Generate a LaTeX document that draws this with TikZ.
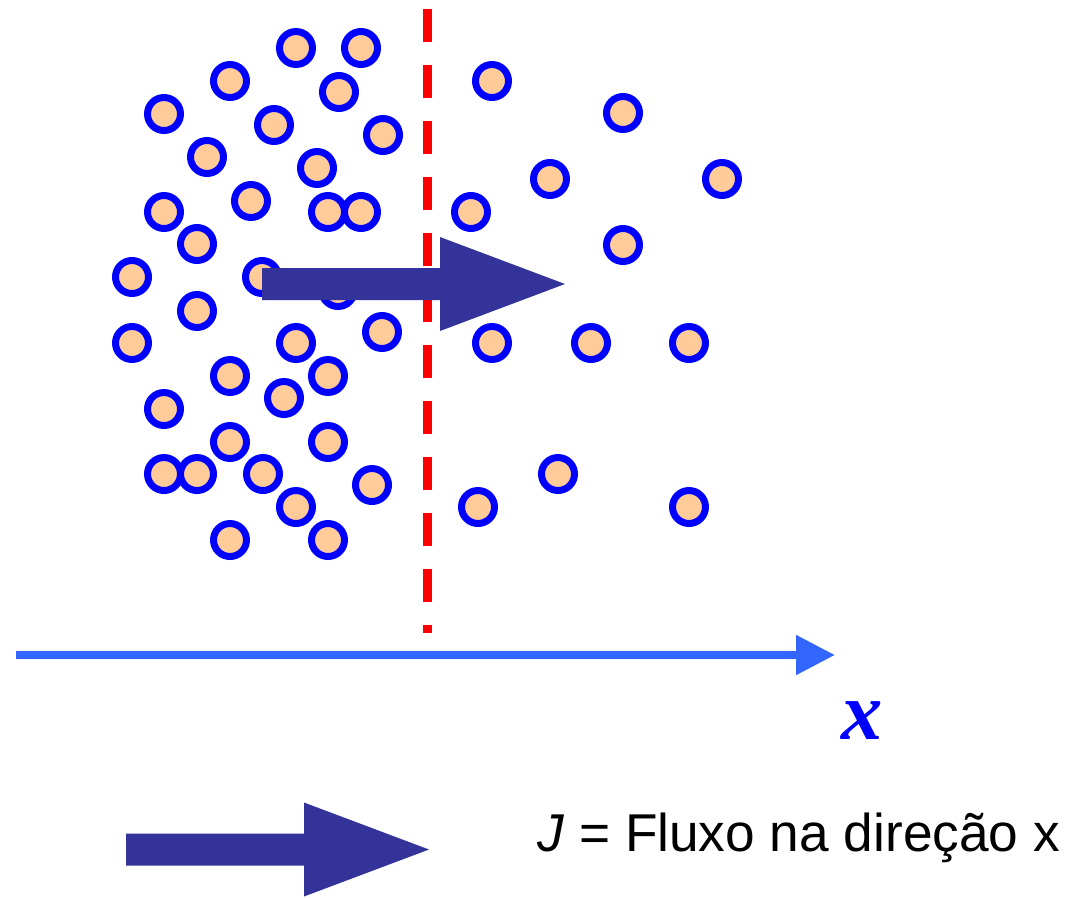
\documentclass[tikz,border=0pt]{standalone}
\usepackage{fontspec}
\setmainfont{Liberation Sans}
\newfontfamily\varfont{Liberation Serif}
\usetikzlibrary{arrows.meta}
\definecolor{particleblue}{RGB}{0,0,255}
\definecolor{particlefill}{RGB}{255,204,153}
\definecolor{fluxnavy}{RGB}{51,51,153}
\definecolor{axisblue}{RGB}{51,102,255}

\begin{document}
\begin{tikzpicture}[x=0.02cm,y=-0.02cm]
\tikzstyle{particle}=[circle, draw=particleblue, fill=particlefill, line width=0.14cm, minimum size=0.66cm, inner sep=0pt]
\tikzstyle{interface}=[draw=red, line width=0.18cm, dash pattern=on 0.66cm off 0.46cm]
\tikzstyle{axis}=[draw=axisblue, line width=0.16cm, -{Triangle[length=0.78cm, width=0.76cm]}]
\tikzset{fluxo/.pic={\fill[fluxnavy] (0,-16) -- (178,-16) -- (178,-47) -- (303,0) -- (178,47) -- (178,16) -- (0,16) -- cycle;}}
\useasboundingbox (0,0) rectangle (1068,897);
\foreach \px/\py [count=\i] in {296/48, 361/48, 230/81, 339/92, 164/114, 274/125, 383/135, 207/157, 317/168,
  164/212, 251/201, 328/212, 361/212, 197/244, 132/277, 262/277, 338/290, 197/311, 132/343, 296/343, 382/332,
  230/376, 328/376, 284/398, 164/409, 230/442, 328/442, 164/474, 197/474, 263/474, 372/485, 296/507, 230/540, 328/540,
  492/81, 623/113, 550/179, 722/179, 471/212, 623/245, 492/343, 591/343, 689/343, 558/474, 478/507, 689/507}
  \node (p\i) [particle] at (\px,\py) {};
\coordinate (top) at (427.5,9);
\coordinate (bottom) at (427.5,633);
\draw[interface] (top) -- (bottom);
\coordinate (ax0) at (16,655);
\coordinate (ax1) at (835,655);
\draw[axis] (ax0) -- (ax1);
\node (xlabel) [anchor=base, inner sep=0pt, text=particleblue] at (862,739) {\varfont\fontsize{47}{47}\selectfont\bfseries\itshape x};
\pic at (262,284) {fluxo};
\pic at (126,849.5) {fluxo};
\node (legenda) [anchor=base west, inner sep=0pt] at (537,851) {\fontsize{30.3}{34}\selectfont\textit{J} = Fluxo na direção x};
\end{tikzpicture}
\end{document}
